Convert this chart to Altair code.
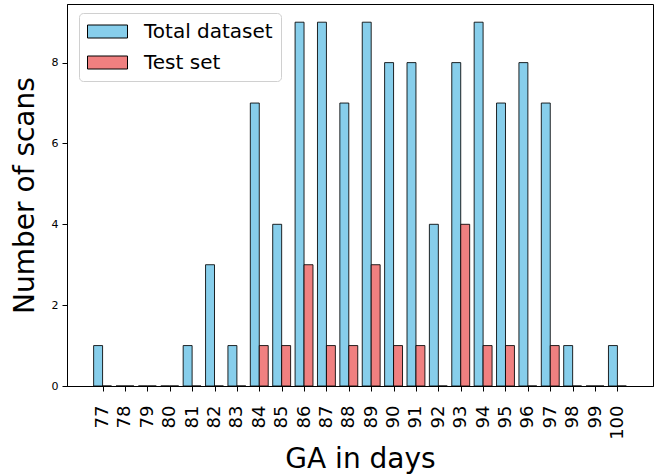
import altair as alt
import pandas as pd

# Gestational age (days) and scan counts
days = list(range(77, 101))
total_counts = [1, 0, 0, 0, 1, 3, 1, 7, 4, 9, 9, 7, 9, 8, 8, 4, 8, 9, 7, 8, 7, 1, 0, 1]
test_counts = [0, 0, 0, 0, 0, 0, 0, 1, 1, 3, 1, 1, 3, 1, 1, 0, 4, 1, 1, 0, 1, 0, 0, 0]

series_names = ["Total dataset", "Test set"]
series_colors = ["#87CEEB", "#F08080"]
bar_width = 0.4

rows = []
for d, t, s in zip(days, total_counts, test_counts):
    rows.append({"day": d, "series": series_names[0], "count": t, "shift": -bar_width})
    rows.append({"day": d, "series": series_names[1], "count": s, "shift": 0.0})
df = pd.DataFrame(rows)

font = "DejaVu Sans"

# wide rectangular legend swatch (anchored at its left edge)
swatch = "M-1,-0.65L3,-0.65L3,0.65L-1,0.65Z"

bars = (
    alt.Chart(df)
    .transform_calculate(x0="datum.day + datum.shift", x1="datum.day + datum.shift + 0.4")
    .mark_bar(stroke="black", strokeWidth=1, strokeOpacity=0.85)
    .encode(
        x=alt.X(
            "x0:Q",
            scale=alt.Scale(domain=[75.41, 101.59], nice=False, zero=False),
            axis=alt.Axis(
                values=days,
                labelAngle=270,
                labelFontSize=18,
                labelFont=font,
                labelColor="black",
                labelPadding=14,
                tickSize=5,
                tickColor="black",
                domainColor="black",
                grid=False,
                title="GA in days",
                titleFont=font,
                titleFontSize=28,
                titleFontWeight="normal",
                titleColor="black",
                titlePadding=6,
            ),
        ),
        x2="x1:Q",
        y=alt.Y(
            "count:Q",
            scale=alt.Scale(domain=[0, 9.45], nice=False),
            axis=alt.Axis(
                values=[0, 2, 4, 6, 8],
                labelFontSize=11,
                labelFont=font,
                labelColor="black",
                labelPadding=4,
                tickSize=5,
                tickColor="black",
                domainColor="black",
                grid=False,
                title="Number of scans",
                titleFont=font,
                titleFontSize=28,
                titleFontWeight="normal",
                titleColor="black",
                titlePadding=12,
            ),
        ),
        y2=alt.datum(0),
        color=alt.Color(
            "series:N",
            scale=alt.Scale(domain=series_names, range=series_colors),
            sort=series_names,
            legend=alt.Legend(
                title=None,
                orient="none",
                legendX=12,
                legendY=9,
                symbolType=swatch,
                symbolSize=400,
                symbolStrokeColor="black",
                symbolStrokeWidth=1,
                symbolOpacity=1,
                labelFont=font,
                labelFontSize=20,
                labelColor="black",
                labelOffset=36,
                rowPadding=10,
                padding=8,
                fillColor="white",
                strokeColor="#d0d0d0",
                cornerRadius=4,
            ),
        ),
    )
)

chart = (
    bars.properties(width=586, height=382)
    .configure_view(stroke="black", strokeWidth=1)
    .properties(
        autosize=alt.AutoSizeParams(type="none"),
        padding={"left": 67, "top": 4, "right": 5, "bottom": 88},
        background="white",
    )
)

chart.save("out.html", embed_options={"renderer": "svg", "actions": False})
